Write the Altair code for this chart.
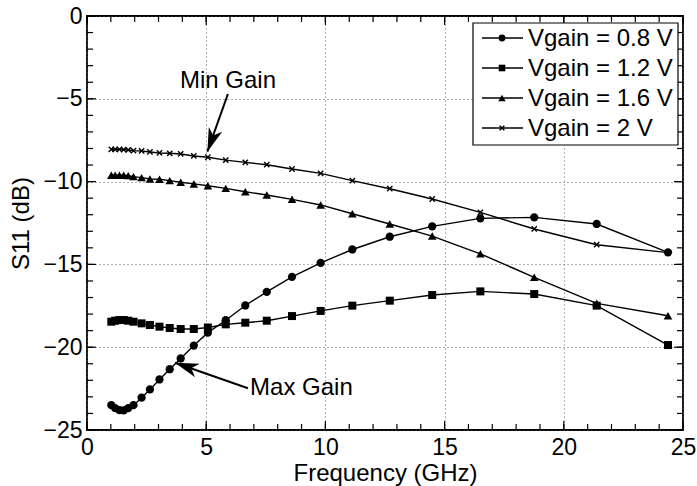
import altair as alt
import pandas as pd

FONT = "Liberation Sans"

# ---------------- data ----------------
freq = [1.02, 1.18, 1.36, 1.54, 1.73, 1.95, 2.29, 2.64, 3.04, 3.47, 3.93, 4.48,
        5.07, 5.82, 6.64, 7.54, 8.60, 9.80, 11.13, 12.70, 14.48, 16.50, 18.76,
        21.38, 24.37]

s11_v08 = [-23.50, -23.68, -23.80, -23.82, -23.68, -23.50, -23.05, -22.55, -21.95,
           -21.33, -20.68, -19.90, -19.12, -18.37, -17.48, -16.66, -15.75, -14.91,
           -14.10, -13.33, -12.70, -12.22, -12.16, -12.56, -14.27]
s11_v12 = [-18.46, -18.40, -18.36, -18.36, -18.40, -18.46, -18.56, -18.66, -18.76,
           -18.84, -18.90, -18.90, -18.81, -18.62, -18.52, -18.40, -18.12, -17.81,
           -17.49, -17.19, -16.85, -16.63, -16.79, -17.49, -19.87]
s11_v16 = [-9.62, -9.62, -9.62, -9.62, -9.64, -9.70, -9.76, -9.84, -9.86, -9.94,
           -10.04, -10.14, -10.25, -10.41, -10.61, -10.81, -11.07, -11.41, -11.94,
           -12.56, -13.29, -14.36, -15.78, -17.35, -18.10]
s11_v20 = [-8.05, -8.05, -8.05, -8.07, -8.09, -8.13, -8.15, -8.21, -8.27, -8.29,
           -8.33, -8.45, -8.53, -8.70, -8.84, -8.98, -9.24, -9.50, -9.94, -10.43,
           -11.05, -11.86, -12.86, -13.81, -14.29]

series_names = ["Vgain = 0.8 V", "Vgain = 1.2 V", "Vgain = 1.6 V", "Vgain = 2 V"]
series_values = [s11_v08, s11_v12, s11_v16, s11_v20]

x_major = [0, 5, 10, 15, 20, 25]
y_major = [-25, -20, -15, -10, -5, 0]
x_minor = list(range(0, 26))
y_minor = list(range(-25, 1))

annot_text = ["Min Gain", "Max Gain"]
annot_x = [3.90, 6.84]
annot_y = [-3.93, -22.46]
arrow_tail_x = [5.91, 6.75]
arrow_tail_y = [-4.71, -22.48]
arrow_head_x = [5.05, 3.69]
arrow_head_y = [-8.19, -20.94]
arrow_angle = [200, 289]

# ---------------- layout / style ----------------
W, H = 596, 414
CX = "black"
shapes = ["circle", "square", "triangle-up", "M-1,-1L1,1M-1,1L1,-1"]
sizes = [68, 64, 74, 28]
filled = [True, True, True, False]
legend_sizes = [46, 44, 54, 22]

xs = alt.Scale(domain=[0, 25], nice=False, zero=False)
ys = alt.Scale(domain=[-25, 0], nice=False, zero=False)

xaxis = alt.Axis(values=x_major, grid=True, gridDash=[1, 3], gridColor="#555",
                 gridWidth=0.9, ticks=False, domain=False, labelFont=FONT,
                 labelFontSize=23, labelColor=CX, labelPadding=6, labelFlush=False,
                 labelOverlap=False, title="Frequency (GHz)", titleFont=FONT,
                 titleFontSize=24, titleFontWeight="normal", titleColor=CX,
                 titlePadding=2)
yaxis = alt.Axis(values=y_major, grid=True, gridDash=[1, 3], gridColor="#555",
                 gridWidth=0.9, ticks=False, domain=False, labelFont=FONT,
                 labelFontSize=23, labelColor=CX, labelPadding=5, labelFlush=False,
                 labelOverlap=False, title="S11 (dB)", titleFont=FONT,
                 titleFontSize=24, titleFontWeight="normal", titleColor=CX,
                 titlePadding=9)

layers = []

# data series
for name, vals, shp, sz, fl in zip(series_names, series_values, shapes, sizes, filled):
    df = pd.DataFrame({"f": freq, "s": vals})
    base = alt.Chart(df).encode(
        x=alt.X("f:Q", scale=xs, axis=xaxis),
        y=alt.Y("s:Q", scale=ys, axis=yaxis),
    )
    layers.append(base.mark_line(color=CX, strokeWidth=1.4))
    layers.append(base.mark_point(shape=shp, size=sz, filled=fl, color=CX,
                                  strokeWidth=1.4, opacity=1))

# inward ticks on all four sides
def xticks(vals, length):
    df = pd.DataFrame({"v": vals})
    bot = alt.Chart(df).mark_rule(color=CX, strokeWidth=1.2).encode(
        x=alt.X("v:Q", scale=xs, axis=xaxis), y=alt.value(H), y2=alt.value(H - length))
    top = alt.Chart(df).mark_rule(color=CX, strokeWidth=1.2).encode(
        x=alt.X("v:Q", scale=xs, axis=xaxis), y=alt.value(0), y2=alt.value(length))
    return [bot, top]

def yticks(vals, length):
    df = pd.DataFrame({"v": vals})
    lef = alt.Chart(df).mark_rule(color=CX, strokeWidth=1.2).encode(
        y=alt.Y("v:Q", scale=ys, axis=yaxis), x=alt.value(0), x2=alt.value(length))
    rig = alt.Chart(df).mark_rule(color=CX, strokeWidth=1.2).encode(
        y=alt.Y("v:Q", scale=ys, axis=yaxis), x=alt.value(W), x2=alt.value(W - length))
    return [lef, rig]

layers += xticks(x_minor, 6) + xticks(x_major, 9)
layers += yticks(y_minor, 6) + yticks(y_major, 9)

# annotations
adf = pd.DataFrame({"t": annot_text, "x": annot_x, "y": annot_y})
layers.append(alt.Chart(adf).mark_text(font=FONT, fontSize=24, align="left",
                                       baseline="middle", color=CX).encode(
    x=alt.X("x:Q", scale=xs, axis=xaxis), y=alt.Y("y:Q", scale=ys, axis=yaxis),
    text="t:N"))
arr = pd.DataFrame({"x": arrow_tail_x, "y": arrow_tail_y,
                    "x2": arrow_head_x, "y2": arrow_head_y, "a": arrow_angle})
layers.append(alt.Chart(arr).mark_rule(color=CX, strokeWidth=2).encode(
    x=alt.X("x:Q", scale=xs, axis=xaxis), y=alt.Y("y:Q", scale=ys, axis=yaxis),
    x2="x2:Q", y2="y2:Q"))
layers.append(alt.Chart(arr).mark_point(shape="M0,0L0.6,2L0,1.45L-0.6,2Z",
                                        size=560, filled=True, color=CX, opacity=1).encode(
    x=alt.X("x2:Q", scale=xs, axis=xaxis), y=alt.Y("y2:Q", scale=ys, axis=yaxis),
    angle=alt.Angle("a:Q", scale=None)))

# legend box
LX0, LX1, LY0, LY1 = 386, 591, 7, 129
layers.append(alt.Chart(pd.DataFrame({"k": [0]})).mark_rect(
    fill="white", stroke=CX, strokeWidth=1.2).encode(
    x=alt.value(LX0), x2=alt.value(LX1), y=alt.value(LY0), y2=alt.value(LY1)))
for i, (name, shp, sz, fl) in enumerate(zip(series_names, shapes, legend_sizes, filled)):
    yy = 22 + 30 * i
    ldf = pd.DataFrame({"label": [name]})
    layers.append(alt.Chart(ldf).mark_rule(color=CX, strokeWidth=1.4).encode(
        x=alt.value(395), x2=alt.value(436), y=alt.value(yy)))
    layers.append(alt.Chart(ldf).mark_point(shape=shp, size=sz, filled=fl, color=CX,
                                            strokeWidth=1.4, opacity=1).encode(
        x=alt.value(415), y=alt.value(yy)))
    layers.append(alt.Chart(ldf).mark_text(font=FONT, fontSize=24, align="left",
                                           baseline="middle", color=CX).encode(
        x=alt.value(441), y=alt.value(yy + 1), text="label:N"))

chart = alt.layer(*layers).properties(
    width=W, height=H,
    autosize=alt.AutoSizeParams(type="none"),
    padding={"left": 87, "top": 16, "right": 14, "bottom": 56},
    background="white",
).configure_view(stroke=CX, strokeWidth=1.8)

chart.save("out.html", embed_options={"renderer": "svg", "actions": False})
